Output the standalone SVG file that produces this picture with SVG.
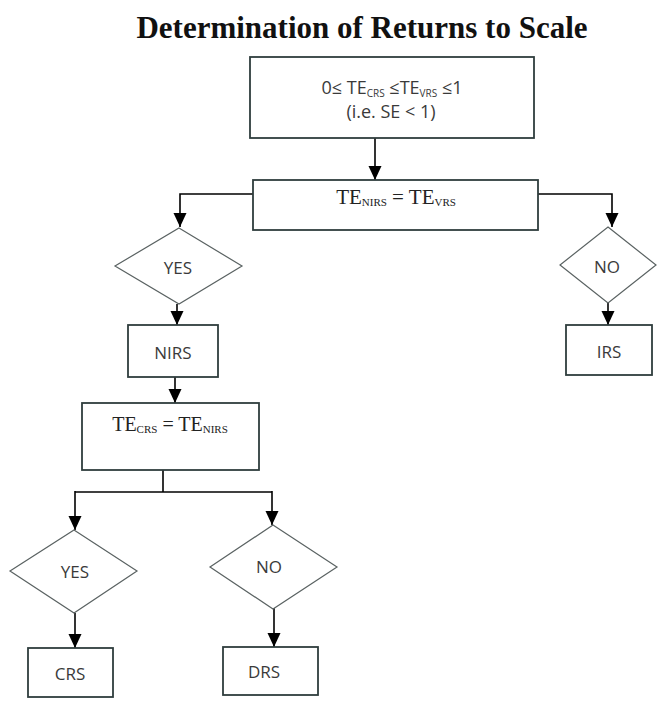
<svg xmlns="http://www.w3.org/2000/svg" width="659" height="702" viewBox="0 0 659 702">
<style>
.box{fill:#fff;stroke:#2f3d3d;stroke-width:1.8}
.dia{fill:#fff;stroke:#5a6262;stroke-width:1.2}
.con{fill:none;stroke:#000;stroke-width:1.6}
.sans{font-family:"Open Sans","Noto Sans","Liberation Sans",sans-serif;font-size:17px;fill:#3a3a3a;text-anchor:middle}
.big{font-size:18px}
.serif{font-family:"Liberation Serif","Times New Roman",serif;font-size:20px;fill:#222;text-anchor:middle}
.sub{font-size:11px}
.tiny{font-size:10px}
.title{font-family:"Liberation Serif","Times New Roman",serif;font-size:31px;font-weight:bold;fill:#111;text-anchor:middle}
</style>
<defs>
<marker id="ah" markerUnits="userSpaceOnUse" markerWidth="14" markerHeight="14" refX="14" refY="6.5" orient="auto">
<path d="M0,0 L14,6.5 L0,13 z" fill="#000"/>
</marker>
</defs>
<text class="title" x="362" y="38">Determination of Returns to Scale</text>
<g id="connectors">
<line class="con" x1="375" y1="138" x2="375" y2="180" marker-end="url(#ah)"/>
<polyline class="con" points="253,194 180,194 180,227" marker-end="url(#ah)"/>
<polyline class="con" points="538,194 612,194 612,227" marker-end="url(#ah)"/>
<line class="con" x1="177" y1="304" x2="177" y2="325" marker-end="url(#ah)"/>
<line class="con" x1="608" y1="303" x2="608" y2="325" marker-end="url(#ah)"/>
<line class="con" x1="175" y1="377" x2="175" y2="403" marker-end="url(#ah)"/>
<polyline class="con" points="163,470 163,492"/>
<polyline class="con" points="75,492 272,492"/>
<line class="con" x1="75" y1="491" x2="75" y2="530" marker-end="url(#ah)"/>
<line class="con" x1="272" y1="491" x2="272" y2="525" marker-end="url(#ah)"/>
<line class="con" x1="75" y1="613" x2="75" y2="648" marker-end="url(#ah)"/>
<line class="con" x1="274" y1="608" x2="274" y2="647" marker-end="url(#ah)"/>
</g>
<g id="start">
<rect class="box" x="250" y="57" width="284" height="81"/>
<text class="sans big" x="392" y="94">0≤ TE<tspan class="tiny" dy="3">CRS</tspan><tspan dy="-3"> ≤TE</tspan><tspan class="tiny" dy="3">VRS</tspan><tspan dy="-3"> ≤1</tspan></text>
<text class="sans big" x="391" y="118">(i.e. SE &lt; 1)</text>
</g>
<g id="test1">
<rect class="box" x="253" y="180" width="285" height="50"/>
<text class="serif" x="396" y="204" style="font-size:21px">TE<tspan class="sub" dy="2">NIRS</tspan><tspan dy="-2"> = TE</tspan><tspan class="sub" dy="2">VRS</tspan></text>
</g>
<g id="yes1">
<polygon class="dia" points="179,228 242,266 179,304 115,266"/>
<text class="sans" x="178" y="274">YES</text>
</g>
<g id="no1">
<polygon class="dia" points="608,227 656,265 608,303 560,265"/>
<text class="sans" x="607" y="273">NO</text>
</g>
<g id="nirs">
<rect class="box" x="128" y="325" width="90" height="52"/>
<text class="sans" x="173" y="359">NIRS</text>
</g>
<g id="irs">
<rect class="box" x="566" y="325" width="86" height="50"/>
<text class="sans" x="609" y="358">IRS</text>
</g>
<g id="test2">
<rect class="box" x="82" y="403" width="177" height="67"/>
<text class="serif" x="170" y="431">TE<tspan class="sub" dy="2">CRS</tspan><tspan dy="-2"> = TE</tspan><tspan class="sub" dy="2">NIRS</tspan></text>
</g>
<g id="yes2">
<polygon class="dia" points="74,530 137,571 74,613 10,571"/>
<text class="sans" x="75" y="578">YES</text>
</g>
<g id="no2">
<polygon class="dia" points="273,525 337,567 273,609 210,567"/>
<text class="sans" x="269" y="573">NO</text>
</g>
<g id="crs">
<rect class="box" x="28" y="648" width="85" height="49"/>
<text class="sans" x="70" y="680">CRS</text>
</g>
<g id="drs">
<rect class="box" x="223" y="647" width="95" height="48"/>
<text class="sans" x="264" y="678">DRS</text>
</g>
</svg>
